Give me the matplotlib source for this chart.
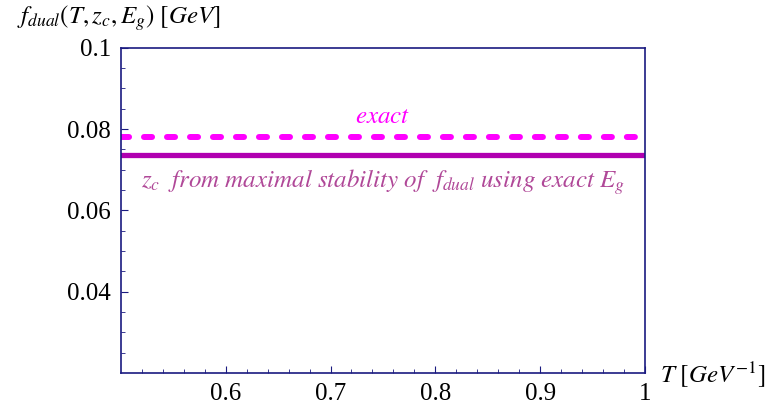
import matplotlib.pyplot as plt
import numpy as np

# data
T = [0.5, 1.0]
f_exact = [0.0781, 0.0781]
f_stab = [0.0737, 0.0737]
xticks = [0.6, 0.7, 0.8, 0.9, 1.0]
xlabels = ['0.6', '0.7', '0.8', '0.9', '1']
yticks = [0.04, 0.06, 0.08, 0.1]
ylabels = ['0.04', '0.06', '0.08', '0.1']

plt.rcParams['font.family'] = ['Liberation Serif', 'DejaVu Serif']
plt.rcParams['mathtext.fontset'] = 'stix'

navy = '#1a1a80'
fig = plt.figure(figsize=(7.69, 4.09), dpi=100)
ax = fig.add_axes([0.157, 0.088, 0.682, 0.795])

ax.plot(T, f_exact, color='#ff00ff', lw=4.3, ls=(0, (1.35, 2.5)), dash_capstyle='round')
ax.plot(T, f_stab, color='#b000b0', lw=3.8)

ax.set_xlim(0.5, 1.0)
ax.set_ylim(0.02, 0.1)
ax.set_xticks(xticks)
ax.set_xticklabels(xlabels)
ax.set_yticks(yticks)
ax.set_yticklabels(ylabels)
ax.set_xticks(np.arange(0.52, 1.0, 0.02), minor=True)
ax.set_yticks(np.arange(0.025, 0.1, 0.005), minor=True)
ax.tick_params(which='both', direction='in', color=navy, labelsize=18, pad=7)
ax.tick_params(which='major', length=5)
ax.tick_params(which='minor', length=3)
for s in ax.spines.values():
    s.set_color(navy)
    s.set_linewidth(1.2)

ax.text(0.75, 0.083, r'$exact$', color='#ff00ff', fontsize=18, ha='center', va='center')
ax.text(0.75, 0.0669, r'$z_c\ \ from\ maximal\ stability\ of\ \ f_{dual}\ using\ exact\ E_g$',
        color='#b04898', fontsize=18, ha='center', va='center')

fig.text(0.022, 0.955, r'$f_{dual}(T,z_c,E_g)\ [GeV]$', fontsize=18, ha='left', va='center')
fig.text(0.858, 0.083, r'$T\ [GeV^{-1}]$', fontsize=18, ha='left', va='center')

fig.savefig('out.png', dpi=100)
